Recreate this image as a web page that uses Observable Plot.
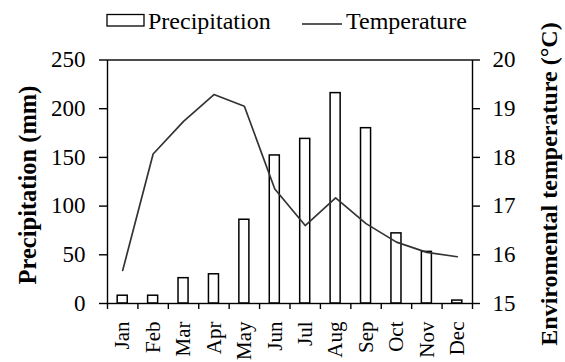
<!DOCTYPE html>
<html>
<head>
<meta charset="utf-8">
<script src="https://cdn.jsdelivr.net/npm/d3@7"></script>
<script src="https://cdn.jsdelivr.net/npm/@observablehq/plot@0.6"></script>
<style>
  html, body { margin: 0; padding: 0; background: white; }
  #wrap { position: relative; width: 565px; height: 362px; overflow: hidden; }
  #overlay { position: absolute; left: 0; top: 0; pointer-events: none; }
</style>
</head>
<body>
<div id="wrap">
  <div id="chart"></div>
  <svg id="overlay" width="565" height="362" font-family="'Liberation Serif'">
    <rect x="107" y="14.5" width="37" height="11.5" fill="white" stroke="black" stroke-width="1.3"></rect>
    <text x="148" y="29" font-size="24" fill="black" font-family="'Liberation Serif'">Precipitation</text>
    <line x1="302" x2="342" y1="24" y2="24" stroke="#222" stroke-width="1.5"></line>
    <text x="346" y="29" font-size="24" fill="black" font-family="'Liberation Serif'">Temperature</text>
    <text transform="translate(27.5,185) rotate(-90)" text-anchor="middle" dy="0.35em" font-size="24.5" font-weight="bold" fill="black" font-family="'Liberation Serif'">Precipitation (mm)</text>
    <text transform="translate(548.5,184) rotate(-90)" text-anchor="middle" dy="0.35em" font-size="24" font-weight="bold" fill="black" font-family="'Liberation Serif'">Enviromental temperature (°C)</text>
  </svg>
</div>
<script>
const months = ["Jan","Feb","Mar","Apr","May","Jun","Jul","Aug","Sep","Oct","Nov","Dec"];
const precipitation = [8, 8, 26, 30, 86, 152, 169, 216, 180, 72, 53, 3];
const temperature = [15.68, 18.07, 18.74, 19.29, 19.05, 17.35, 16.6, 17.17, 16.64, 16.26, 16.05, 15.96];
const precipTicks = [0, 50, 100, 150, 200, 250];
const tempTicks = [15, 16, 17, 18, 19, 20];

// secondary axis mapping: temperature range onto precipitation range
const k = (precipTicks[precipTicks.length - 1] - precipTicks[0]) / (tempTicks[tempTicks.length - 1] - tempTicks[0]);
const tToP = t => precipTicks[0] + (t - tempTicks[0]) * k;
const pToT = p => tempTicks[0] + (p - precipTicks[0]) / k;

const data = months.map((m, i) => ({ i, m, p: precipitation[i], t: temperature[i] }));

const chart = Plot.plot({
  width: 565,
  height: 362,
  marginLeft: 107,
  marginRight: 93,
  marginTop: 59.5,
  marginBottom: 59,
  style: { fontFamily: "'Liberation Serif'", color: "black", background: "white" },
  x: { type: "linear", domain: [0, months.length], axis: null },
  y: { domain: [precipTicks[0], precipTicks[precipTicks.length - 1]], axis: null },
  marks: [
    Plot.rectY(data, { x1: d => d.i + 0.335, x2: d => d.i + 0.665, y: "p", fill: "white", stroke: "black", strokeWidth: 1.5 }),
    Plot.line(data, { x: d => d.i + 0.5, y: d => tToP(d.t), stroke: "#333", strokeWidth: 1.7 }),
    Plot.frame({ stroke: "black", strokeWidth: 1.4 }),
    Plot.axisX({ ticks: d3.range(months.length + 1), tickSize: 6, tickFormat: () => "", label: null, strokeWidth: 1.4 }),
    Plot.axisX({ ticks: d3.range(months.length).map(i => i + 0.5), tickSize: 0, tickPadding: 18, tickRotate: -90,
      tickFormat: v => months[Math.floor(v)], fontSize: 21, label: null }),
    Plot.axisY({ ticks: precipTicks, tickSize: 8, tickPadding: 14, fontSize: 23, label: null, strokeWidth: 1.4 }),
    Plot.axisY({ anchor: "right", ticks: tempTicks.map(tToP), tickFormat: p => String(Math.round(pToT(p))),
      tickSize: 7, tickPadding: 13, fontSize: 23, label: null, strokeWidth: 1.4 })
  ]
});
document.getElementById("chart").appendChild(chart);
</script>
</body>
</html>
